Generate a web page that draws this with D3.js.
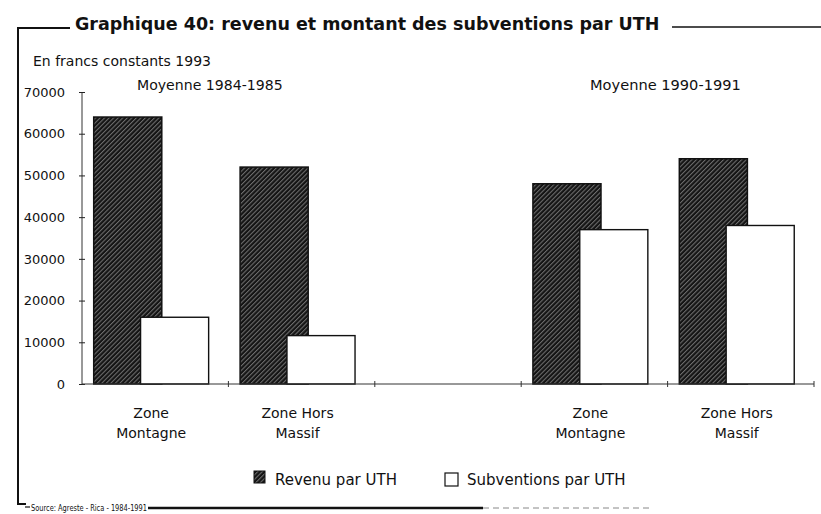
<!DOCTYPE html>
<html>
<head>
<meta charset="utf-8">
<script src="https://cdn.jsdelivr.net/npm/d3@7"></script>
<style>
  html, body { margin: 0; padding: 0; background: #fff; }
  svg { display: block; }
  text { font-family: "DejaVu Sans", sans-serif; fill: #111; }
</style>
</head>
<body>
<svg id="chart" width="821" height="514"></svg>
<script>
// Income and subsidies per UTH, in constant 1993 francs
const periods = ["Moyenne 1984-1985", "Moyenne 1990-1991"];
const zones = [["Zone", "Montagne"], ["Zone Hors", "Massif"]];
// slot order on the x axis; the empty slot separates the two periods
const slots = ["84-montagne", "84-hors", "", "90-montagne", "90-hors"];
const barSlots = ["84-montagne", "84-hors", "90-montagne", "90-hors"];
const revenu = [64000, 52000, 48000, 54000];
const subventions = [16000, 11600, 37000, 38000];
const yTicks = [0, 10000, 20000, 30000, 40000, 50000, 60000, 70000];
const seriesNames = ["Revenu par UTH", "Subventions par UTH"];

const svg = d3.select("#chart");

// diagonal hatch used for the income bars
const defs = svg.append("defs");
const pat = defs.append("pattern")
  .attr("id", "hatch")
  .attr("patternUnits", "userSpaceOnUse")
  .attr("width", 3.2).attr("height", 3.2)
  .attr("patternTransform", "rotate(45)");
pat.append("rect").attr("width", 3.2).attr("height", 3.2).attr("fill", "#141414");
pat.append("line").attr("x1", 0.6).attr("y1", 0).attr("x2", 0.6).attr("y2", 3.2)
  .attr("stroke", "#8c8c8c").attr("stroke-width", 0.8);

const x = d3.scaleBand().domain(slots).range([82, 814]).padding(0);
const y = d3.scaleLinear().domain([0, 70000]).range([384, 92]);
const step = x.step();
const barW = step * 0.465;
const darkOff = step * 0.08;
const lightOff = step * 0.40;

// frame around the figure
const frame = svg.append("g").attr("stroke", "#111").attr("fill", "none");
frame.append("path").attr("d", "M70,28 H18 V504 H26").attr("stroke-width", 2);
frame.append("line").attr("x1", 672).attr("x2", 821).attr("y1", 27).attr("y2", 27).attr("stroke-width", 1.6);
frame.append("line").attr("x1", 25).attr("x2", 30).attr("y1", 507).attr("y2", 507).attr("stroke-width", 1.2);
frame.append("line").attr("x1", 148).attr("x2", 483).attr("y1", 508).attr("y2", 508).attr("stroke-width", 2.6);
frame.append("line").attr("x1", 483).attr("x2", 650).attr("y1", 508).attr("y2", 508)
  .attr("stroke-width", 1).attr("stroke", "#888").attr("stroke-dasharray", "6,4");

svg.append("text").attr("x", 75).attr("y", 29.5)
  .attr("font-size", 17.5).attr("font-weight", "bold")
  .text("Graphique 40: revenu et montant des subventions par UTH");

svg.append("text").attr("x", 33).attr("y", 66).attr("font-size", 14)
  .text("En francs constants 1993");

svg.append("text").attr("x", 137).attr("y", 90).attr("font-size", 14.1).text(periods[0]);
svg.append("text").attr("x", 590).attr("y", 90).attr("font-size", 14.6).text(periods[1]);

// y axis
const yAxis = svg.append("g").attr("transform", "translate(82,0)")
  .call(d3.axisLeft(y).tickValues(yTicks).tickSize(3).tickPadding(14).tickFormat(d3.format("d")));
yAxis.select(".domain").attr("stroke", "#333").attr("d", `M0,${y(70000)}V${y(0)}`);
yAxis.selectAll(".tick line").attr("x1", -3).attr("x2", 3).attr("stroke", "#222");
yAxis.selectAll(".tick text").attr("font-size", 13).attr("font-family", "DejaVu Sans, sans-serif").attr("fill", "#111");

// bars
const bars = svg.append("g");
bars.selectAll("rect.rev").data(barSlots).join("rect")
  .attr("class", "rev")
  .attr("x", d => x(d) + darkOff)
  .attr("y", (d, i) => y(revenu[i]))
  .attr("width", barW)
  .attr("height", (d, i) => y(0) - y(revenu[i]))
  .attr("fill", "url(#hatch)")
  .attr("stroke", "#111").attr("stroke-width", 1.5);
bars.selectAll("rect.sub").data(barSlots).join("rect")
  .attr("class", "sub")
  .attr("x", d => x(d) + lightOff)
  .attr("y", (d, i) => y(subventions[i]))
  .attr("width", barW)
  .attr("height", (d, i) => y(0) - y(subventions[i]))
  .attr("fill", "#fff")
  .attr("stroke", "#111").attr("stroke-width", 1.4);

// x baseline with slot boundary ticks
const xAxis = svg.append("g").attr("transform", `translate(0,${y(0)})`);
xAxis.append("line").attr("x1", x.range()[0]).attr("x2", x.range()[1])
  .attr("stroke", "#333").attr("stroke-width", 1);
xAxis.selectAll("line.tk").data(slots).join("line")
  .attr("class", "tk")
  .attr("x1", d => x(d) + step).attr("x2", d => x(d) + step)
  .attr("y1", -3).attr("y2", 3)
  .attr("stroke", "#333");

// category labels
const labels = svg.append("g").attr("text-anchor", "middle").attr("font-size", 14);
barSlots.forEach((s, i) => {
  const cx = x(s) + (darkOff + lightOff + barW) / 2;
  const lines = zones[i % 2];
  lines.forEach((ln, j) => {
    labels.append("text").attr("x", cx).attr("y", 418 + j * 20).text(ln);
  });
});

// legend
const legend = svg.append("g");
legend.append("rect").attr("x", 254).attr("y", 471).attr("width", 11).attr("height", 12)
  .attr("fill", "url(#hatch)").attr("stroke", "#111").attr("stroke-width", 1);
legend.append("text").attr("x", 275).attr("y", 485).attr("font-size", 15).text(seriesNames[0]);
legend.append("rect").attr("x", 445).attr("y", 473).attr("width", 13).attr("height", 13)
  .attr("fill", "#fff").attr("stroke", "#111").attr("stroke-width", 1.2);
legend.append("text").attr("x", 467).attr("y", 485).attr("font-size", 15).text(seriesNames[1]);

// source line
svg.append("text").attr("x", 31).attr("y", 511).attr("font-size", 9.5)
  .attr("textLength", 116).attr("lengthAdjust", "spacingAndGlyphs")
  .text("Source: Agreste - Rica - 1984-1991");
</script>
</body>
</html>
